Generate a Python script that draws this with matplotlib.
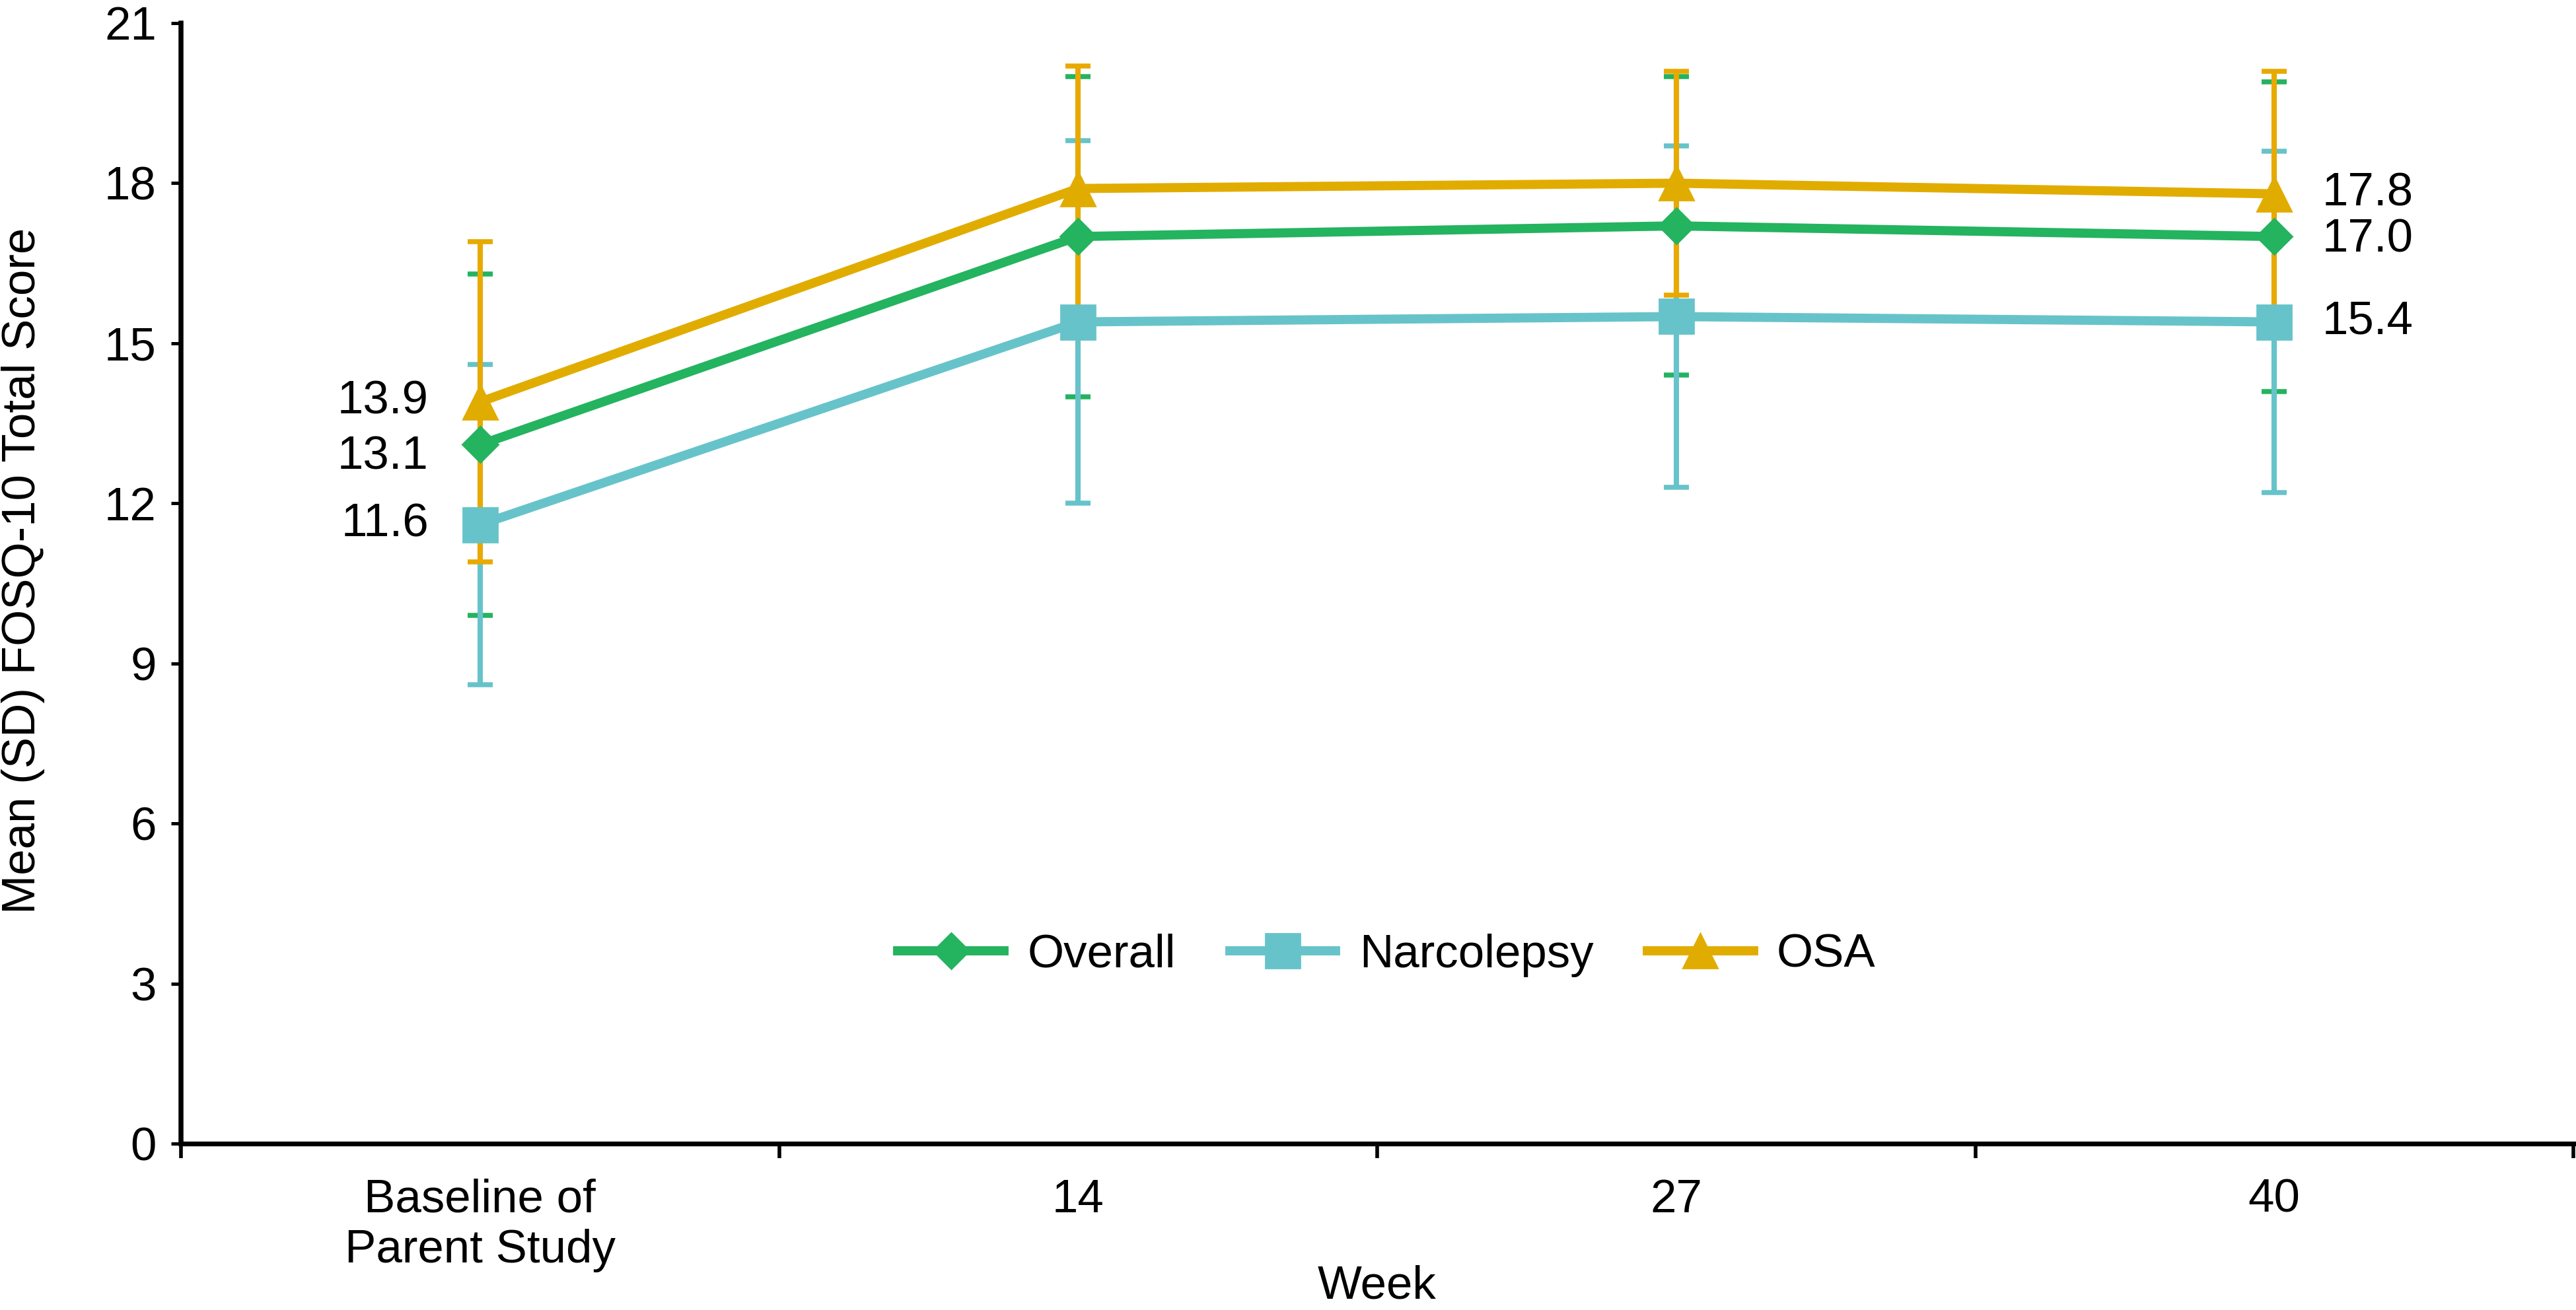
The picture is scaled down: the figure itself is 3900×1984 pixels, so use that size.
"""
FOSQ-10 total score over time by cohort
Line chart with SD error bars, saved as out.png
"""
import matplotlib
matplotlib.use("Agg")
import matplotlib.pyplot as plt

plt.rcParams["font.family"] = ["Liberation Sans", "DejaVu Sans"]

# Data
categories = ["Baseline of\nParent Study", "14", "27", "40"]
groups = ["Overall", "Narcolepsy", "OSA"]

overall_mean = [13.1, 17.0, 17.2, 17.0]
overall_sd = [3.2, 3.0, 2.8, 2.9]
narco_mean = [11.6, 15.4, 15.5, 15.4]
narco_sd = [3.0, 3.4, 3.2, 3.2]
osa_mean = [13.9, 17.9, 18.0, 17.8]
osa_sd = [3.0, 2.3, 2.1, 2.3]

# labels shown next to the first and last points
first_labels = ["13.1", "11.6", "13.9"]
last_labels = ["17.0", "15.4", "17.8"]

colors = ["#24B35F", "#67C3CA", "#E1AC00"]
err_colors = ["#24B35F", "#67C3CA", "#E8A900"]
markers = ["D", "s", "^"]
msizes = [13.5, 19, 19]
# vertical nudge of the data labels (points) so they don't overlap
first_dy = [-7, 0, 0]
last_dy = [-2, 0, 0]

FS = 25.5


def main():
    fig = plt.figure(figsize=(19.5, 9.92), dpi=200)
    ax = fig.add_axes([274 / 3900, 252 / 1984, (3896 - 274) / 3900, (1732 - 35) / 1984])

    x = [i + 0.5 for i in range(len(categories))]
    means = [overall_mean, narco_mean, osa_mean]
    sds = [overall_sd, narco_sd, osa_sd]

    # error bars first, behind the lines
    for m, s, c in zip(means, sds, err_colors):
        ax.errorbar(x, m, yerr=s, fmt="none", ecolor=c, elinewidth=2.9,
                    capsize=7, capthick=2.7, zorder=2)

    for i, g in enumerate(groups):
        ax.plot(x, means[i], color=colors[i], lw=5, marker=markers[i],
                ms=msizes[i], mec=colors[i], mfc=colors[i], label=g,
                zorder=4, solid_joinstyle="round")
        ax.annotate(first_labels[i], (x[0], means[i][0]), xytext=(-28, first_dy[i]),
                    textcoords="offset points", ha="right", va="center", fontsize=FS)
        ax.annotate(last_labels[i], (x[-1], means[i][-1]), xytext=(26, last_dy[i]),
                    textcoords="offset points", ha="left", va="center", fontsize=FS)

    ax.set_xlim(0, 4)
    ax.set_ylim(0, 21)
    ax.set_yticks(range(0, 22, 3))
    ax.set_xticks([0, 1, 2, 3, 4])
    ax.set_xticklabels([])
    ax.set_xticks(x, minor=True)
    ax.set_xticklabels(categories, minor=True)

    ax.tick_params(axis="x", which="major", length=8, width=2, direction="out")
    ax.tick_params(axis="x", which="minor", length=0, pad=19, labelsize=FS)
    ax.tick_params(axis="y", length=5.4, width=1.8, direction="out", pad=8, labelsize=FS)

    ax.spines["top"].set_visible(False)
    ax.spines["right"].set_visible(False)
    ax.spines["bottom"].set_linewidth(2.6)
    ax.spines["left"].set_linewidth(2.7)
    ax.spines["left"].set_zorder(1)

    ax.set_xlabel("Week", fontsize=FS, labelpad=-4)
    ax.set_ylabel("Mean (SD) FOSQ-10 Total Score", fontsize=FS)
    ax.yaxis.set_label_coords(-0.057, 0.511)

    ax.legend(loc="center", bbox_to_anchor=(0.504, 0.168), ncol=3, frameon=False,
              fontsize=FS, handlelength=2.27, handletextpad=0.5, columnspacing=1.15)

    fig.savefig("out.png", dpi=200)
    plt.close(fig)


if __name__ == "__main__":
    main()
